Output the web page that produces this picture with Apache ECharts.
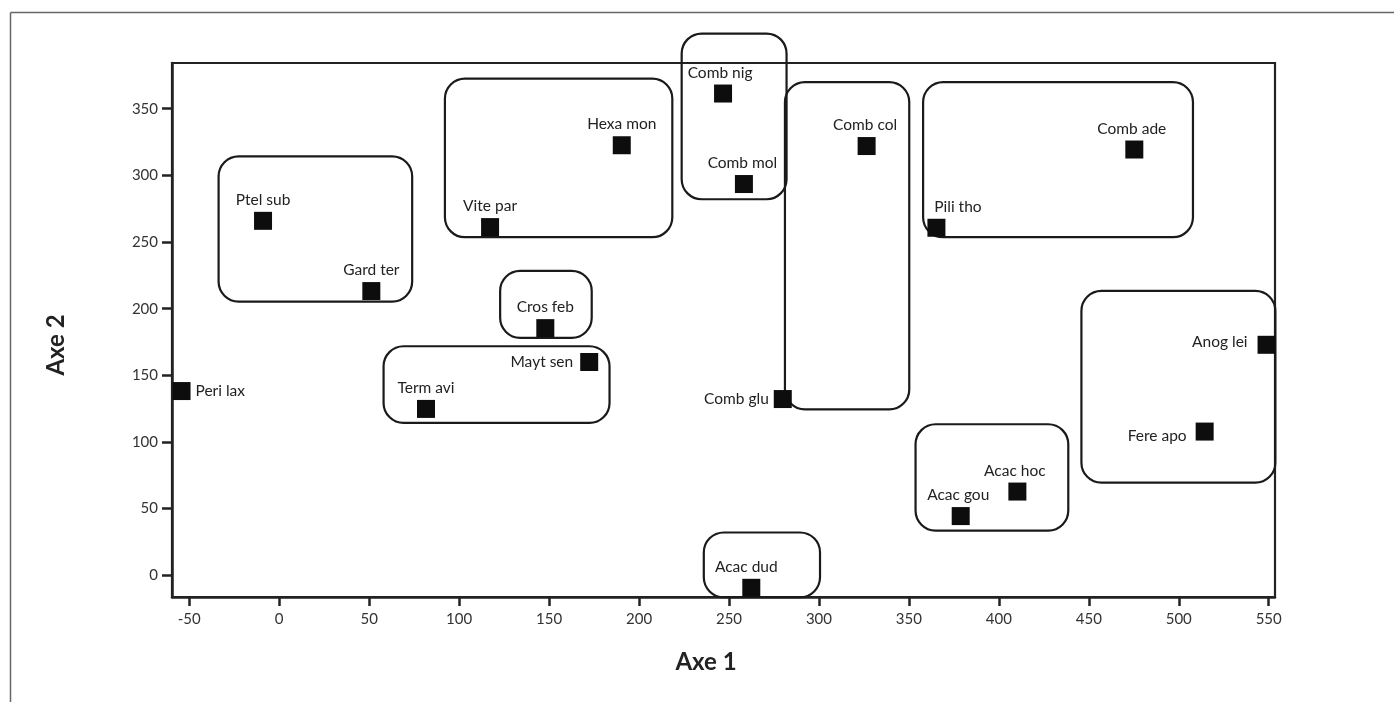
<!DOCTYPE html>
<html>
<head>
<meta charset="utf-8">
<script src="https://cdn.jsdelivr.net/npm/echarts@6/dist/echarts.min.js"></script>
<style>
  html, body { margin: 0; padding: 0; background: #fff; }
  #chart { width: 1394px; height: 702px; }
</style>
</head>
<body>
<div id="chart"></div>
<script>
// ---- data ----
const speciesNames = ['Peri lax','Ptel sub','Gard ter','Vite par','Hexa mon','Comb nig','Comb mol','Comb col','Comb ade','Pili tho','Cros feb','Mayt sen','Term avi','Comb glu','Anog lei','Fere apo','Acac hoc','Acac gou','Acac dud'];
const axe1Values = [-54.3, -9.0, 51.2, 117.2, 190.4, 246.7, 258.3, 326.5, 475.3, 365.3, 147.9, 172.3, 81.6, 279.9, 548.8, 514.4, 410.3, 378.8, 262.4];
const axe2Values = [138.2, 265.9, 213.2, 261.2, 322.6, 361.4, 293.5, 322.0, 319.4, 260.7, 185.4, 160.0, 124.8, 132.2, 172.9, 107.8, 62.8, 44.4, -9.4];

// group envelopes (data units)
const groupX1   = [-33.7,  92.1, 223.7, 281.1, 357.9, 122.8,  58.0, 445.9, 353.7, 236.0];
const groupX2   = [ 73.9, 218.5, 282.0, 350.2, 507.9, 173.7, 183.6, 553.7, 438.6, 300.6];
const groupYLow = [205.3, 253.6, 282.1, 124.4, 253.6, 178.1, 114.3,  69.5,  33.5, -16.5];
const groupYHigh= [314.2, 372.6, 406.4, 370.0, 370.0, 228.3, 171.8, 213.3, 113.3,  32.1];

const xTicks = [-50, 0, 50, 100, 150, 200, 250, 300, 350, 400, 450, 500, 550];
const yTicks = [0, 50, 100, 150, 200, 250, 300, 350];

// label placement (style only)
const labelPos = ['right','top','top','top','top','top','top','top','top','top','top','left','top','left','left','left','top','top','top'];
const labelDx  = [0, 0, 0, 0, 0, -3, -1.5, -1.5, -2.5, 21.5, 0, -2, 0, 0, -5, -4, -2.5, -2.5, -5];
const labelDy  = [0, 0, 0, 0, 0, 0, 0, 0, 0, 0, 0, 0, 0, 0, -3, 4, 0, 0, 0];

const FONT = 'Lato, "Noto Sans", sans-serif';

const pointData = speciesNames.map((n, i) => ({
  name: n,
  value: [axe1Values[i], axe2Values[i]],
  label: {
    show: true,
    position: labelPos[i],
    distance: labelPos[i] === 'top' ? 4 : 5,
    offset: [labelDx[i], labelDy[i]]
  }
}));

const boxData = groupX1.map((v, i) => [v, groupX2[i], groupYLow[i], groupYHigh[i]]);

const chart = echarts.init(document.getElementById('chart'), null, { renderer: 'canvas' });
chart.setOption({
  animation: false,
  backgroundColor: '#fff',
  grid: {
    left: 172, top: 63, right: 119, bottom: 105,
    show: true, borderColor: '#222', borderWidth: 2.2, containLabel: false
  },
  xAxis: {
    type: 'value', min: -59.6, max: 553.5,
    name: 'Axe 1', nameLocation: 'middle', nameGap: 53,
    nameTextStyle: { fontFamily: FONT, fontWeight: 'bold', fontSize: 24, color: '#222', padding: [0, 35, 0, 0] },
    axisLine: { show: true, onZero: false, lineStyle: { color: '#222', width: 2.5 } },
    axisTick: { show: true, inside: false, customValues: xTicks, length: 9, lineStyle: { color: '#222', width: 2.5 } },
    axisLabel: { customValues: xTicks, fontFamily: FONT, fontSize: 15, color: '#333', margin: 15 },
    splitLine: { show: false }
  },
  yAxis: {
    type: 'value', min: -16.3, max: 384.3,
    name: 'Axe 2', nameLocation: 'middle', nameGap: 104,
    nameTextStyle: { fontFamily: FONT, fontWeight: 'bold', fontSize: 24, color: '#222', padding: [0, 30, 0, 0] },
    axisLine: { show: true, onZero: false, lineStyle: { color: '#222', width: 2.5 } },
    axisTick: { show: true, inside: false, customValues: yTicks, length: 10, lineStyle: { color: '#222', width: 2.5 } },
    axisLabel: { customValues: yTicks, fontFamily: FONT, fontSize: 15, color: '#333', margin: 14 },
    splitLine: { show: false }
  },
  graphic: [
    { type: 'line', shape: { x1: 10.5, y1: 12.5, x2: 1394, y2: 12.5 }, style: { stroke: '#666', lineWidth: 1.5 }, silent: true },
    { type: 'line', shape: { x1: 10.5, y1: 12.5, x2: 10.5, y2: 702 }, style: { stroke: '#666', lineWidth: 1.5 }, silent: true }
  ],
  series: [
    {
      type: 'custom',
      clip: false,
      silent: true,
      z: 2,
      encode: { x: [0, 1], y: [2, 3] },
      data: boxData,
      renderItem: function (params, api) {
        const tl = api.coord([api.value(0), api.value(3)]);
        const br = api.coord([api.value(1), api.value(2)]);
        return {
          type: 'rect',
          shape: { x: tl[0], y: tl[1], width: br[0] - tl[0], height: br[1] - tl[1], r: 20 },
          style: { fill: 'none', stroke: '#1a1a1a', lineWidth: 2.2 }
        };
      }
    },
    {
      type: 'scatter',
      symbol: 'rect',
      symbolSize: 18,
      clip: false,
      z: 3,
      itemStyle: { color: '#0d0d0d', opacity: 1 },
      label: {
        show: true,
        formatter: '{b}',
        fontFamily: FONT,
        fontSize: 15.5,
        color: '#222'
      },
      data: pointData
    }
  ]
});
</script>
</body>
</html>
